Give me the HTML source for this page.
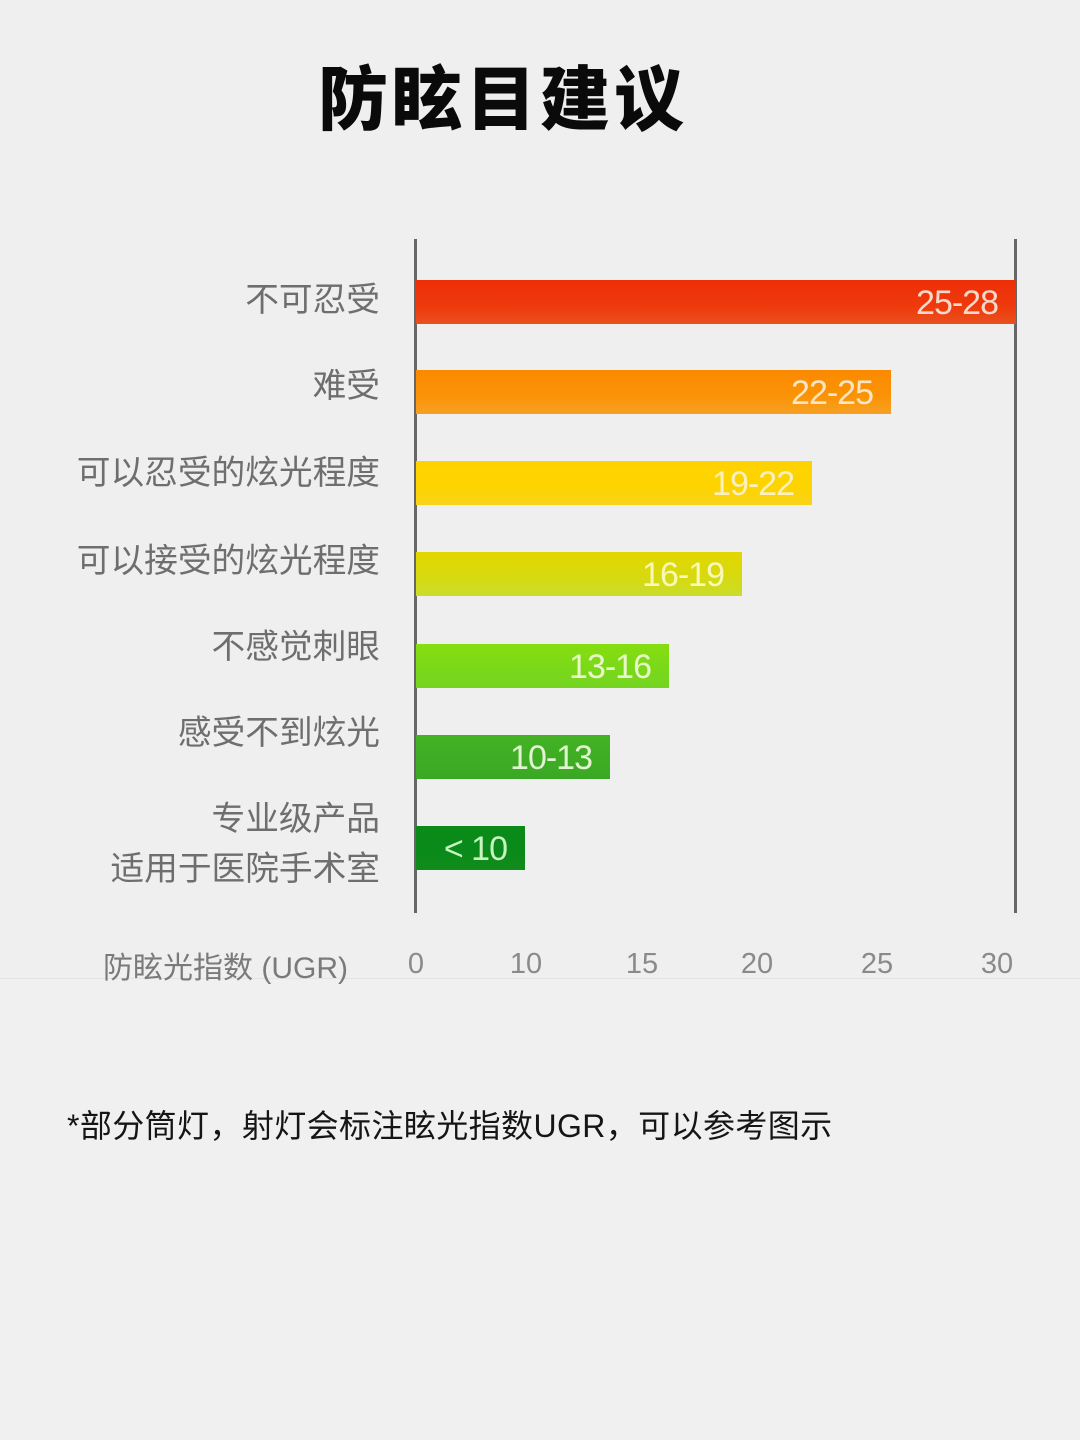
<!DOCTYPE html>
<html><head><meta charset="utf-8">
<style>
html,body{margin:0;padding:0;}
body{width:1080px;height:1440px;background:#efefef;position:relative;overflow:hidden;font-family:"Liberation Sans","Noto Sans CJK SC",sans-serif;}
.abs{position:absolute;}
.title{left:300px;top:50px;width:406px;text-align:center;font-family:"Noto Sans CJK SC",sans-serif;font-weight:900;font-size:70px;line-height:90px;color:#0a0a0a;letter-spacing:4px;}
.lbl{position:absolute;right:700px;font-family:"Liberation Sans","Noto Sans CJK SC",sans-serif;font-size:33.7px;line-height:40px;color:#6e6e6e;text-align:right;white-space:nowrap;}
.axis{position:absolute;width:3px;background:#666;top:239px;height:674px;}
.bar{position:absolute;left:416px;height:44px;}
.bv{position:absolute;right:18px;top:0;height:44px;line-height:46px;font-family:"Liberation Sans",sans-serif;font-size:34px;letter-spacing:-1px;}
.tick{position:absolute;top:946px;width:60px;text-align:center;font-size:29px;line-height:36px;color:#8a8a8a;font-family:"Liberation Sans",sans-serif;}
.foot{left:67px;top:1104px;font-family:"Liberation Sans","Noto Sans CJK SC",sans-serif;font-size:32px;line-height:44px;color:#151515;white-space:nowrap;letter-spacing:0.4px;}
</style></head>
<body>
<div class="abs" style="left:0;top:979px;width:1080px;height:461px;background:#f0f0f0;"></div>
<div class="abs" style="left:0;top:978px;width:1080px;height:1px;background:#e4e4e4;"></div>

<div class="abs title">防眩目建议</div>

<div class="axis" style="left:414px;"></div>
<div class="axis" style="left:1014px;"></div>

<div class="bar" style="top:280px;width:600px;background:linear-gradient(180deg,#ee2e08 0%,#ee3a0c 60%,#e9501e 100%);"><div class="bv" style="color:#f6d8c8;">25-28</div></div>
<div class="bar" style="top:370px;width:475px;background:linear-gradient(180deg,#fb8a00 0%,#fb9306 60%,#f6a024 100%);"><div class="bv" style="color:#fbe6c4;">22-25</div></div>
<div class="bar" style="top:461px;width:396px;background:linear-gradient(180deg,#fdd200 0%,#fdd400 60%,#f9d21a 100%);"><div class="bv" style="color:#fbf0c0;">19-22</div></div>
<div class="bar" style="top:552px;width:326px;background:linear-gradient(180deg,#e2d600 0%,#d6da10 60%,#cadc2c 100%);"><div class="bv" style="color:#f8f8b8;">16-19</div></div>
<div class="bar" style="top:644px;width:253px;background:linear-gradient(180deg,#86de10 0%,#7ad81a 60%,#74d420 100%);"><div class="bv" style="color:#e8f8c8;">13-16</div></div>
<div class="bar" style="top:735px;width:194px;background:linear-gradient(180deg,#44b224 0%,#3eac24 60%,#3aa824 100%);"><div class="bv" style="color:#e0f4d0;">10-13</div></div>
<div class="bar" style="top:826px;width:109px;background:linear-gradient(180deg,#0a8a18 0%,#0a8a1a 60%,#108c1c 100%);"><div class="bv" style="color:#c8f4c0;">&lt; 10</div></div>

<div class="lbl" style="top:280px;">不可忍受</div>
<div class="lbl" style="top:366px;">难受</div>
<div class="lbl" style="top:453px;">可以忍受的炫光程度</div>
<div class="lbl" style="top:541px;">可以接受的炫光程度</div>
<div class="lbl" style="top:627px;">不感觉刺眼</div>
<div class="lbl" style="top:713px;">感受不到炫光</div>
<div class="lbl" style="top:799px;">专业级产品</div>
<div class="lbl" style="top:849px;">适用于医院手术室</div>

<div class="lbl" style="top:949px;right:732px;font-size:30px;color:#7a7a7a;">防眩光指数 (UGR)</div>

<div class="tick" style="left:386px;">0</div>
<div class="tick" style="left:496px;">10</div>
<div class="tick" style="left:612px;">15</div>
<div class="tick" style="left:727px;">20</div>
<div class="tick" style="left:847px;">25</div>
<div class="tick" style="left:967px;">30</div>

<div class="abs foot">*部分筒灯，射灯会标注眩光指数UGR，可以参考图示</div>
</body></html>
